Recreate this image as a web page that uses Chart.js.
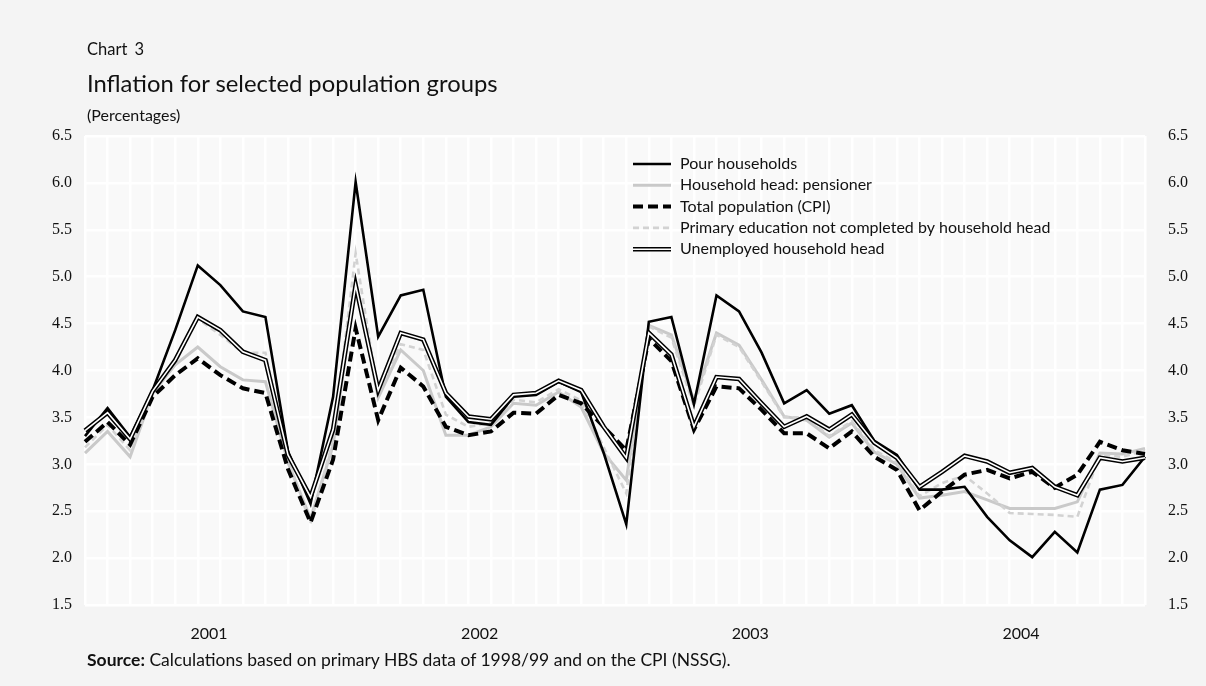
<!DOCTYPE html>
<html>
<head>
<meta charset="utf-8">
<script src="https://cdn.jsdelivr.net/npm/chart.js@4.4.1/dist/chart.umd.min.js"></script>
<style>
    body { margin: 0; background: #f4f4f4; font-family: Lato, "Noto Sans", sans-serif; color: #111; }
    #wrap { position: relative; width: 1206px; height: 686px; }
    #chart { position: absolute; left: 0; top: 0; }
    .txt { position: absolute; left: 87px; white-space: nowrap; }
    #kicker { top: 39px; font-size: 16.5px; word-spacing: 3px; }
    #title { top: 69px; font-size: 23.8px; }
    #unit { top: 105px; font-size: 16px; }
    #source { top: 649px; font-size: 17.5px; }
</style>
</head>
<body>
<div id="wrap">
    <canvas id="chart" width="1206" height="686"></canvas>
    <div class="txt" id="kicker">Chart 3</div>
    <div class="txt" id="title">Inflation for selected population groups</div>
    <div class="txt" id="unit">(Percentages)</div>
    <div class="txt" id="source"><b>Source:</b> Calculations based on primary HBS data of 1998/99 and on the CPI (NSSG).</div>
</div>
<script>
// Monthly data, Jan 2001 - Dec 2004
const years = ['2001', '2002', '2003', '2004'];
const monthNames = ['Jan', 'Feb', 'Mar', 'Apr', 'May', 'Jun', 'Jul', 'Aug', 'Sep', 'Oct', 'Nov', 'Dec'];
const months = [];
years.forEach(y => monthNames.forEach(m => months.push(m + ' ' + y)));

const pourHouseholds = [3.30, 3.60, 3.29, 3.79, 4.43, 5.12, 4.91, 4.63, 4.57, 3.14, 2.58, 3.72,
    6.01, 4.36, 4.80, 4.86, 3.72, 3.45, 3.42, 3.72, 3.74, 3.88, 3.77, 3.12,
    2.36, 4.52, 4.57, 3.64, 4.80, 4.63, 4.19, 3.65, 3.79, 3.54, 3.63, 3.25,
    3.10, 2.73, 2.73, 2.76, 2.44, 2.19, 2.01, 2.28, 2.06, 2.73, 2.78, 3.08];
const pensioner = [3.12, 3.35, 3.08, 3.76, 4.06, 4.25, 4.04, 3.90, 3.88, 3.02, 2.42, 3.20,
    4.95, 3.71, 4.22, 4.00, 3.31, 3.31, 3.40, 3.65, 3.63, 3.77, 3.61, 3.12,
    2.83, 4.48, 4.38, 3.68, 4.40, 4.27, 3.90, 3.51, 3.47, 3.29, 3.44, 3.13,
    3.00, 2.64, 2.67, 2.71, 2.62, 2.53, 2.53, 2.53, 2.60, 3.12, 3.11, 3.17];
const totalCPI = [3.24, 3.45, 3.21, 3.72, 3.95, 4.13, 3.95, 3.81, 3.76, 2.95, 2.38, 3.05,
    4.45, 3.47, 4.03, 3.83, 3.40, 3.31, 3.35, 3.55, 3.54, 3.74, 3.65, 3.40,
    3.15, 4.34, 4.10, 3.37, 3.83, 3.81, 3.58, 3.33, 3.33, 3.17, 3.35, 3.08,
    2.94, 2.51, 2.71, 2.89, 2.94, 2.85, 2.92, 2.75, 2.89, 3.24, 3.15, 3.11];
const primaryEdu = [3.18, 3.42, 3.15, 3.74, 4.08, 4.55, 4.38, 4.19, 4.19, 3.05, 2.37, 3.25,
    5.25, 3.75, 4.28, 4.22, 3.53, 3.40, 3.44, 3.69, 3.66, 3.80, 3.68, 3.18,
    2.69, 4.47, 4.35, 3.62, 4.38, 4.25, 3.88, 3.50, 3.50, 3.30, 3.46, 3.15,
    3.02, 2.66, 2.80, 2.88, 2.69, 2.48, 2.47, 2.46, 2.44, 3.10, 3.08, 3.15];
const unemployed = [3.36, 3.55, 3.27, 3.78, 4.11, 4.57, 4.43, 4.20, 4.11, 3.10, 2.65, 3.37,
    4.91, 3.79, 4.40, 4.33, 3.76, 3.51, 3.48, 3.74, 3.76, 3.89, 3.79, 3.40,
    3.07, 4.40, 4.17, 3.40, 3.93, 3.91, 3.65, 3.40, 3.51, 3.37, 3.53, 3.23,
    3.07, 2.76, 2.92, 3.09, 3.03, 2.91, 2.96, 2.76, 2.67, 3.07, 3.03, 3.07];

const legendNames = ['Pour households', 'Household head: pensioner', 'Total population (CPI)',
    'Primary education not completed by household head', 'Unemployed household head'];

const tickFont = { family: 'Liberation Serif', size: 16 };
const yearFont = { family: 'Lato', size: 16 };

function line(label, data, color, width, dash, order) {
    return {
        label: label, data: data, borderColor: color, borderWidth: width,
        borderDash: dash || [], borderJoinStyle: 'miter', borderCapStyle: 'butt',
        pointRadius: 0, tension: 0, fill: false, order: order
    };
}

const datasets = [
    line(legendNames[0], pourHouseholds, '#000', 2.6, null, 3),
    line(legendNames[1], pensioner, '#c9c9c9', 3, null, 5),
    line(legendNames[2], totalCPI, '#000', 4, [10, 5], 2),
    line(legendNames[3], primaryEdu, '#d2d2d2', 2.6, [6, 4], 4),
    line(legendNames[4], unemployed, '#000', 4.6, null, 1),
    line('', unemployed, '#fff', 1.6, null, 0)
];

// plot background
const plotBg = {
    id: 'plotBg',
    beforeDraw(chart) {
        const a = chart.chartArea, ctx = chart.ctx;
        ctx.save();
        ctx.fillStyle = '#f9f9f9';
        ctx.fillRect(a.left, a.top, a.right - a.left, a.bottom - a.top);
        ctx.restore();
    }
};

// legend drawn inside the plot area
const innerLegend = {
    id: 'innerLegend',
    afterDraw(chart) {
        const ctx = chart.ctx;
        const x0 = 633, x1 = 671, tx = 680, y0 = 164, step = 21.3;
        ctx.save();
        ctx.font = '16px Lato';
        ctx.textBaseline = 'middle';
        for (let i = 0; i < 5; i++) {
            const ds = datasets[i];
            const y = y0 + i * step;
            ctx.beginPath();
            ctx.setLineDash(ds.borderDash);
            ctx.lineWidth = ds.borderWidth;
            ctx.strokeStyle = ds.borderColor;
            ctx.moveTo(x0, y);
            ctx.lineTo(x1, y);
            ctx.stroke();
            if (i === 4) {
                ctx.beginPath();
                ctx.lineWidth = datasets[5].borderWidth;
                ctx.strokeStyle = '#fff';
                ctx.moveTo(x0, y);
                ctx.lineTo(x1, y);
                ctx.stroke();
            }
            ctx.setLineDash([]);
            ctx.fillStyle = '#111';
            ctx.fillText(ds.label, tx, y);
        }
        ctx.restore();
    }
};

const ctx = document.getElementById('chart').getContext('2d');
new Chart(ctx, {
    type: 'line',
    data: { labels: months, datasets: datasets },
    options: {
        responsive: false,
        animation: false,
        layout: { padding: { top: 136, left: 0, right: 0, bottom: 0 } },
        plugins: { legend: { display: false }, tooltip: { enabled: false } },
        scales: {
            x: {
                type: 'category',
                grid: { color: '#fff', lineWidth: 2.5, drawTicks: false },
                border: { display: false },
                ticks: { display: false },
                afterFit: s => { s.height = 0; }
            },
            x2: {
                type: 'linear',
                position: 'bottom',
                min: 0,
                max: months.length - 1,
                grid: { display: false },
                border: { display: false },
                afterBuildTicks: s => { s.ticks = years.map((y, i) => ({ value: 5.5 + 12 * i })); },
                ticks: {
                    autoSkip: false, maxRotation: 0, padding: 11, color: '#111', font: yearFont,
                    callback: (v, i) => years[i]
                },
                afterFit: s => { s.height = 81; }
            },
            y: {
                position: 'left',
                min: 1.5, max: 6.5,
                grid: { color: '#fff', lineWidth: 2.5, drawTicks: false },
                border: { display: false },
                ticks: { stepSize: 0.5, padding: 13, color: '#111', font: tickFont, callback: v => v.toFixed(1) },
                afterFit: s => { s.width = 85; }
            },
            y2: {
                position: 'right',
                min: 1.5, max: 6.5,
                grid: { display: false },
                border: { display: false },
                ticks: { stepSize: 0.5, padding: 15, color: '#111', font: tickFont, callback: v => v.toFixed(1) },
                afterFit: s => { s.width = 61; }
            }
        }
    },
    plugins: [plotBg, innerLegend]
});
</script>
</body>
</html>
